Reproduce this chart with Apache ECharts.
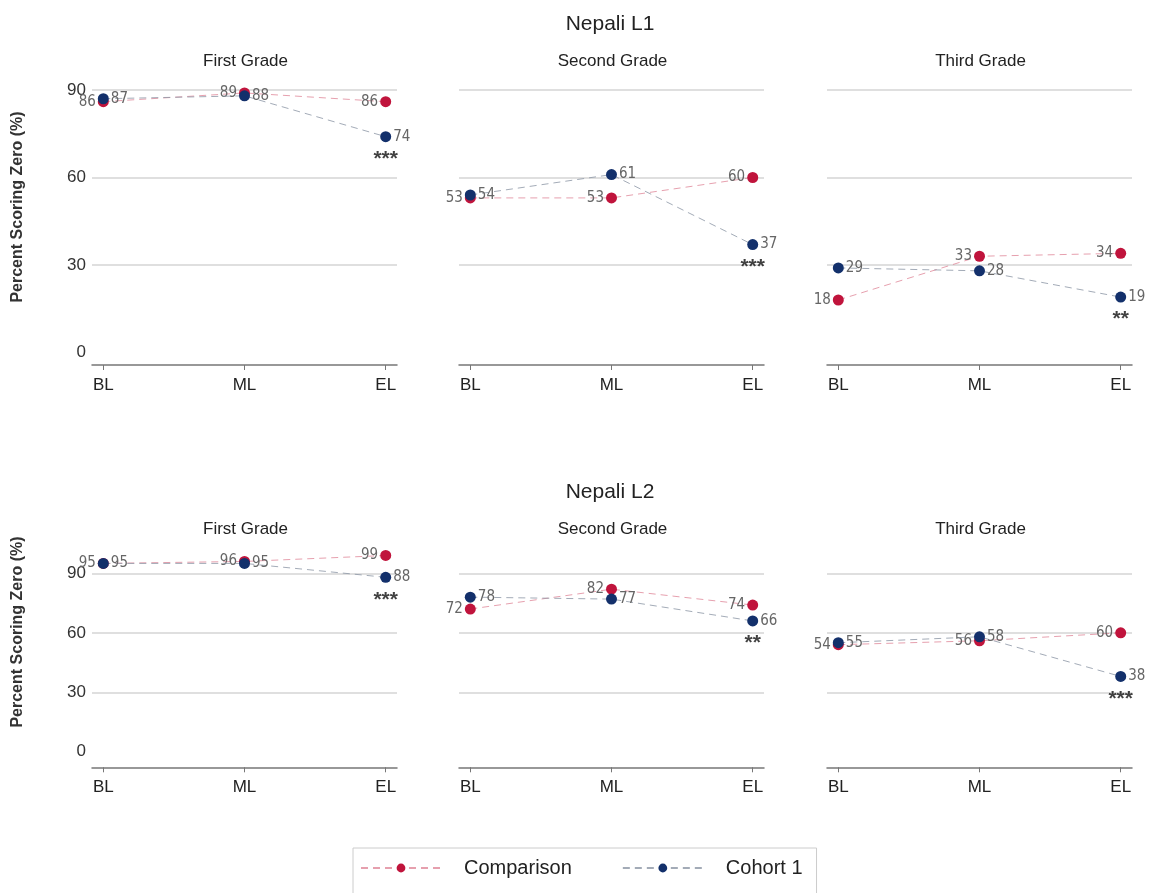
<!DOCTYPE html>
<html>
<head>
<meta charset="utf-8">
<title>Nepali L1 / L2 – Percent Scoring Zero</title>
<script src="https://cdn.jsdelivr.net/npm/echarts@6/dist/echarts.min.js"></script>
<style>
  html, body { margin: 0; padding: 0; background: #fff; }
  #chart { width: 1149px; height: 893px; }
</style>
</head>
<body>
<div id="chart"></div>
<script>
// Time points and panels
const stages = ['BL', 'ML', 'EL'];
const grades = ['First Grade', 'Second Grade', 'Third Grade'];
const yTicks = [0, 30, 60, 90];

// Nepali L1: percent scoring zero, one row per grade (BL, ML, EL)
const l1Comparison = [[86, 89, 86], [53, 53, 60], [18, 33, 34]];
const l1Cohort     = [[87, 88, 74], [54, 61, 37], [29, 28, 19]];
const l1Sig        = ['***', '***', '**'];

// Nepali L2
const l2Comparison = [[95, 96, 99], [72, 82, 74], [54, 56, 60]];
const l2Cohort     = [[95, 95, 88], [78, 77, 66], [55, 58, 38]];
const l2Sig        = ['***', '**', '***'];

const FONT = 'Liberation Sans, Arial, Helvetica, sans-serif';
const NARROW = '"Liberation Sans Narrow", "DejaVu Sans Condensed", "Liberation Sans", Arial, sans-serif';
const RED = '#c0143c';
const NAVY = '#13306b';

const colLeft = [92, 459, 827];
const colWidth = 305;
const rows = [
  { title: 'Nepali L1', comp: l1Comparison, coh: l1Cohort, sig: l1Sig,
    top: 90, height: 262.5, yMax: 90, offset: 12.5, titleY: 24, subY: 61, nameY: 207 },
  { title: 'Nepali L2', comp: l2Comparison, coh: l2Cohort, sig: l2Sig,
    top: 553.5, height: 198.3, yMax: 100, offset: 15.5, titleY: 492, subY: 529, nameY: 632 }
];

const grid = [], xAxis = [], yAxis = [], series = [], graphic = [];

rows.forEach((row, r) => {
  graphic.push({
    type: 'text', x: 610, y: row.titleY,
    style: { text: row.title, font: '21px ' + FONT, fill: '#222', align: 'center', verticalAlign: 'middle' }
  });
  graphic.push({
    type: 'text', x: 18, y: row.nameY, rotation: Math.PI / 2,
    style: { text: 'Percent Scoring Zero (%)', font: 'bold 16px ' + FONT, fill: '#333', align: 'center', verticalAlign: 'middle' }
  });

  grades.forEach((g, c) => {
    const idx = r * 3 + c;
    grid.push({ left: colLeft[c], top: row.top, width: colWidth, height: row.height });
    graphic.push({
      type: 'text', x: colLeft[c] + colWidth / 2 + 1, y: row.subY,
      style: { text: g, font: '17px ' + FONT, fill: '#222', align: 'center', verticalAlign: 'middle' }
    });

    xAxis.push({
      gridIndex: idx, type: 'value', min: -0.08, max: 2.08,
      position: 'bottom', offset: row.offset,
      axisLine: { show: true, onZero: false, lineStyle: { color: '#777', width: 1.5 } },
      axisTick: { show: true, length: 5, customValues: [0, 1, 2], lineStyle: { color: '#777' } },
      axisLabel: {
        customValues: [0, 1, 2], margin: 12,
        formatter: v => stages[Math.round(v)],
        fontFamily: FONT, fontSize: 17, color: '#222'
      },
      splitLine: { show: false }
    });

    yAxis.push({
      gridIndex: idx, type: 'value', min: 0, max: row.yMax,
      axisLine: { show: false },
      axisTick: { show: false, customValues: [30, 60, 90] },
      axisLabel: {
        show: c === 0, customValues: yTicks, margin: 6,
        fontFamily: FONT, fontSize: 17, color: '#333'
      },
      splitLine: { show: true, lineStyle: { color: '#d4d4d4', width: 1.5 } }
    });

    const comp = row.comp[c].map((v, i) => [i, v]);
    const coh = row.coh[c].map((v, i) => [i, v]);

    series.push({
      name: 'Comparison', type: 'line', xAxisIndex: idx, yAxisIndex: idx,
      data: comp, symbol: 'circle', symbolSize: 11, z: 2,
      itemStyle: { color: RED },
      lineStyle: { color: 'rgba(220,120,140,0.7)', width: 1, type: [7, 5] },
      label: {
        show: true, position: 'left', distance: 2,
        fontFamily: NARROW, fontSize: 15, color: '#666',
        formatter: p => p.value[1]
      },
      emphasis: { disabled: true }
    });
    series.push({
      name: 'Cohort 1', type: 'line', xAxisIndex: idx, yAxisIndex: idx,
      data: coh, symbol: 'circle', symbolSize: 11, z: 3,
      itemStyle: { color: NAVY },
      lineStyle: { color: 'rgba(140,150,165,0.8)', width: 1, type: [7, 5] },
      label: {
        show: true, position: 'right', distance: 2,
        fontFamily: NARROW, fontSize: 15, color: '#666',
        formatter: p => p.value[1]
      },
      emphasis: { disabled: true }
    });
    // Significance stars under the endline Cohort 1 point
    series.push({
      type: 'scatter', xAxisIndex: idx, yAxisIndex: idx,
      data: [[2, row.coh[c][2]]], symbolSize: 0, silent: true, z: 4,
      label: {
        show: true, position: 'bottom', distance: 12,
        formatter: () => row.sig[c],
        fontFamily: FONT, fontSize: 21, fontWeight: 'bold', color: '#111'
      }
    });
  });
});

const chart = echarts.init(document.getElementById('chart'), null, { renderer: 'canvas' });
chart.setOption({
  animation: false,
  backgroundColor: '#fff',
  grid, xAxis, yAxis, series, graphic,
  legend: {
    data: ['Comparison', 'Cohort 1'],
    left: 353, top: 848,
    itemWidth: 80, itemHeight: 11, itemGap: 50,
    padding: [10, 14, 24, 7],
    borderColor: '#ccc', borderWidth: 1,
    selectedMode: false,
    textStyle: { fontFamily: FONT, fontSize: 20, color: '#222', padding: [0, 0, 0, 18] }
  }
});
</script>
</body>
</html>
